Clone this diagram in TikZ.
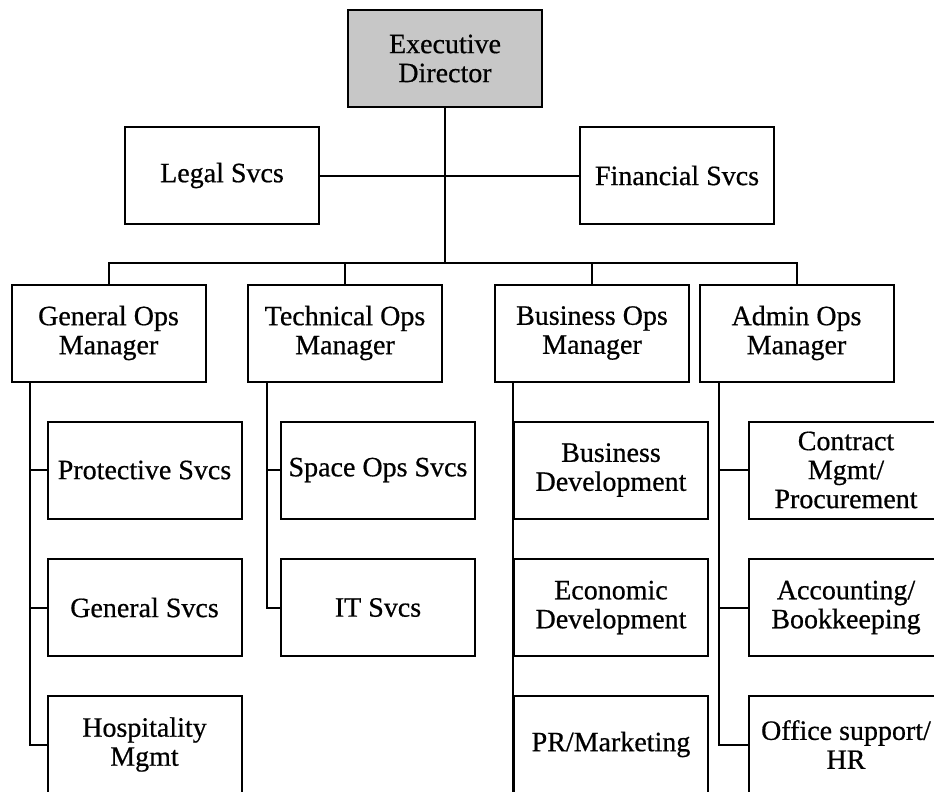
\documentclass[tikz,border=0pt]{standalone}
\usepackage{fontspec}
\setmainfont{Liberation Serif}[FakeBold=0.6]
\usetikzlibrary{positioning}

\begin{document}
\begin{tikzpicture}[x=1pt,y=-1pt,
    unit/.style={draw, line width=2pt, minimum width=194pt, minimum height=97pt,
        inner sep=1pt, align=center, font=\fontsize{28}{29}\selectfont},
    chief/.style={unit, fill=black!22},
    link/.style={line width=2pt}]
    \clip (0,0) rectangle (934,792);

    % Top
    \node[chief] (ed) at (445,58.5) {Executive\\Director};
    \node[unit] (legal) at (222,175.5) {Legal Svcs};
    \node[unit] (fin) at (677,175.5) {Financial Svcs};
    \coordinate (bus) at (445,263);
    \draw[link] (ed) -- (bus);
    \draw[link] (legal) -- (fin);

    % Managers
    \node[unit] (gom) at (108.5,333) {General Ops\\Manager};
    \node[unit] (tom) at (345,333) {Technical Ops\\Manager};
    \node[unit] (bom) at (592,333) {Business Ops\\Manager};
    \node[unit] (aom) at (796.5,333) {Admin Ops\\Manager};
    \draw[link] (gom.north) |- (bus) -| (aom.north);
    \draw[link] (bus) -| (tom.north);
    \draw[link] (bus) -| (bom.north);

    % General ops
    \node[unit] (prot) at (144.5,470) {Protective Svcs};
    \node[unit] (gen) at (144.5,607.5) {General Svcs};
    \node[unit] (hosp) at (144.5,744.5) {Hospitality\\Mgmt};
    \foreach \s in {prot,gen,hosp}
        \draw[link] ([xshift=19pt]gom.south west) |- (\s.west);

    % Technical ops
    \node[unit] (space) at (378,470) {Space Ops Svcs};
    \node[unit] (its) at (378,607.5) {IT Svcs};
    \foreach \s in {space,its}
        \draw[link] ([xshift=20pt]tom.south west) |- (\s.west);

    % Business ops
    \node[unit] (bdev) at (611,470) {Business\\Development};
    \node[unit] (edev) at (611,607.5) {Economic\\Development};
    \node[unit] (prm) at (611,744.5) {PR/Marketing};
    \draw[link] (bom.south -| bdev.west) -- (prm.south west);

    % Admin ops
    \node[unit] (con) at (846,470) {Contract\\Mgmt/\\Procurement};
    \node[unit] (acc) at (846,607.5) {Accounting/\\Bookkeeping};
    \node[unit] (off) at (846,744.5) {Office support/\\HR};
    \foreach \s in {con,acc,off}
        \draw[link] ([xshift=20pt]aom.south west) |- (\s.west);
\end{tikzpicture}
\end{document}
